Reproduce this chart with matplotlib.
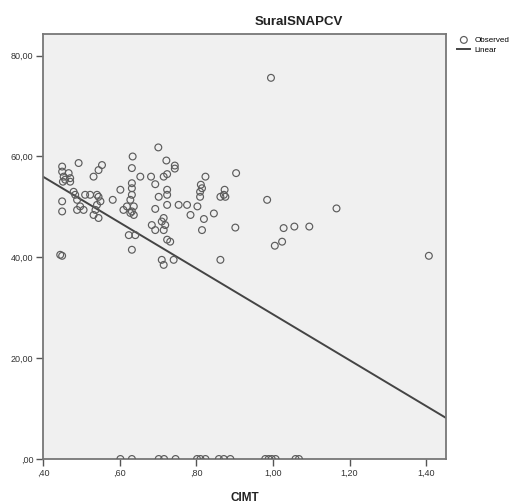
import numpy as np
import matplotlib
matplotlib.use("Agg")
import matplotlib.pyplot as plt
from matplotlib.ticker import FuncFormatter

plt.rcParams["font.family"] = ["Liberation Sans", "DejaVu Sans"]

# CIMT vs Sural SNAP CV (observed points)
cimt = [0.995, 0.701, 0.493, 0.634, 0.722, 0.744, 0.744, 0.554, 0.545, 0.632,
        0.532, 0.450, 0.450, 0.454, 0.467, 0.471, 0.458, 0.452, 0.471, 0.602,
        0.582, 0.480, 0.484, 0.489, 0.510, 0.523, 0.541, 0.545, 0.550, 0.541,
        0.537, 0.545, 0.532, 0.489, 0.506, 0.497, 0.450, 0.450, 0.445, 0.450,
        0.654, 0.682, 0.693, 0.715, 0.724, 0.632, 0.632, 0.632, 0.628, 0.637,
        0.632, 0.619, 0.610, 0.628, 0.637, 0.724, 0.724, 0.702, 0.724, 0.693,
        0.754, 0.776, 0.785, 0.803, 0.820, 0.815, 0.815, 0.810, 0.824, 0.810,
        0.715, 0.710, 0.719, 0.684, 0.693, 0.715, 0.724, 0.732, 0.624, 0.641,
        0.632, 0.710, 0.715, 0.741, 0.904, 0.846, 0.874, 0.863, 0.876, 0.872,
        0.985, 0.902, 1.028, 1.024, 1.005, 0.863, 1.056, 1.095, 1.166, 1.407,
        0.812]
sural = [75.6, 61.8, 58.7, 60.0, 59.2, 58.2, 57.6, 58.3, 57.3, 57.7,
         56.0, 58.0, 57.0, 56.0, 56.7, 55.7, 55.4, 55.0, 55.0, 53.4,
         51.4, 53.0, 52.4, 51.4, 52.4, 52.4, 52.4, 52.0, 51.1, 50.4,
         49.4, 47.8, 48.4, 49.4, 49.4, 50.1, 51.1, 49.1, 40.5, 40.3,
         56.0, 56.0, 54.5, 56.0, 56.5, 54.7, 53.7, 52.4, 51.4, 50.1,
         49.1, 50.1, 49.4, 48.8, 48.4, 53.4, 52.4, 52.0, 50.4, 49.6,
         50.4, 50.4, 48.4, 50.1, 47.6, 45.4, 53.7, 53.0, 56.0, 52.0,
         47.8, 47.1, 46.4, 46.4, 45.4, 45.4, 43.5, 43.1, 44.4, 44.4,
         41.5, 39.5, 38.5, 39.5, 56.7, 48.7, 53.4, 52.0, 52.0, 52.4,
         51.4, 45.9, 45.8, 43.1, 42.3, 39.5, 46.1, 46.1, 49.7, 40.3,
         54.4]

# cases with SNAP CV recorded as 0
cimt_zero = [0.602, 0.632, 0.702, 0.716, 0.746, 0.802, 0.811, 0.824, 0.859,
             0.872, 0.889, 0.980, 0.989, 0.997, 1.007, 1.059, 1.068]
sural_zero = [0.0] * len(cimt_zero)

# linear fit
fit_intercept = 74.2
fit_slope = -45.5

x_ticks = [0.4, 0.6, 0.8, 1.0, 1.2, 1.4]
y_ticks = [0, 20, 40, 60, 80]


def spss_fmt(v, pos=None):
    s = f"{v:.2f}".replace(".", ",")
    if s.startswith("0,"):
        s = s[1:]
    return s


fig = plt.figure(figsize=(5.26, 5.04), dpi=100)
ax = fig.add_axes([0.0817, 0.0893, 0.7664, 0.8433])
ax.set_facecolor("#f0f0f0")

edge = "#5c5c5c"
ax.scatter(cimt + cimt_zero, sural + sural_zero, s=24, facecolors="none",
           edgecolors=edge, linewidths=0.85, label="Observed", zorder=3)

xl = np.array([0.4, 1.452])
ax.plot(xl, fit_intercept + fit_slope * xl, color="#444444", lw=1.4,
        label="Linear", zorder=2)

ax.set_xlim(0.4, 1.452)
ax.set_ylim(0, 84.3)
ax.set_xticks(x_ticks)
ax.set_yticks(y_ticks)
ax.xaxis.set_major_formatter(FuncFormatter(spss_fmt))
ax.yaxis.set_major_formatter(FuncFormatter(spss_fmt))
ax.tick_params(direction="out", length=5, width=1, color="#555555",
               labelsize=6.5, labelcolor="#333333", pad=2)

for side in ax.spines.values():
    side.set_color("#777777")
    side.set_linewidth(1.3)

fig.text(299 / 526, 1 - 22 / 504, "SuralSNAPCV", ha="center", va="center",
         fontsize=9.5, fontweight="bold", color="#222222")
fig.text(245 / 526, 1 - 498 / 504, "CIMT", ha="center", va="center",
         fontsize=8.5, fontweight="bold", color="#222222")

ax.legend(loc="upper left", bbox_to_anchor=(1.022, 1.0), frameon=False,
          fontsize=5.8, handlelength=1.6, handletextpad=0.5,
          labelspacing=0.3, borderpad=0, borderaxespad=0.3)

fig.savefig("out.png", dpi=100)
